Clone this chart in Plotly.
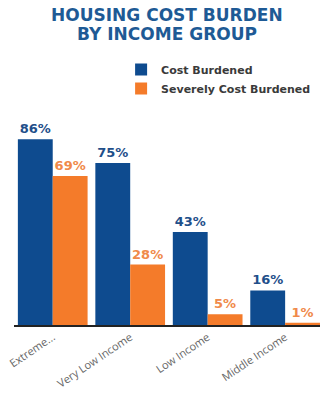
import plotly.graph_objects as go

categories = ["Extreme...", "Very Low Income", "Low Income", "Middle Income"]
cost_burdened = [86, 75, 43, 16]
severely_burdened = [69, 28, 5, 1]
title_lines = ["HOUSING COST BURDEN", "BY INCOME GROUP"]

BLUE = "#0e4b8f"
ORANGE = "#f47b2a"
PLOT_TOP, PLOT_H = 109, 216  # pixel top and height of the plotting area

fig = go.Figure()
fig.add_trace(go.Bar(
    x=categories, y=cost_burdened, name="Cost Burdened",
    marker=dict(color=BLUE, line=dict(width=0)),
    text=[f"<b>{v}%</b>" for v in cost_burdened], textposition="outside",
    textfont=dict(family="DejaVu Sans", size=13, color="#1f4f8a"),
    cliponaxis=False,
))
fig.add_trace(go.Bar(
    x=categories, y=severely_burdened, name="Severely Cost Burdened",
    marker=dict(color=ORANGE, line=dict(width=0)),
    text=[f"<b>{v}%</b>" for v in severely_burdened], textposition="outside",
    textfont=dict(family="DejaVu Sans", size=13, color="#f08a4a"),
    cliponaxis=False,
))

# two-line title, each line placed separately for tight line spacing
title_ann = []
for line, ypix in zip(title_lines, [15, 34]):
    title_ann.append(dict(
        text=f"<b>{line}</b>", xref="paper", yref="paper",
        x=0.5, y=1.0 + (PLOT_TOP - ypix) / PLOT_H,
        xanchor="center", yanchor="middle", showarrow=False,
        font=dict(family="DejaVu Sans", size=17, color="#1e5a95"),
    ))

fig.update_layout(
    width=320, height=398,
    margin=dict(l=14, r=0, t=PLOT_TOP, b=398 - PLOT_TOP - PLOT_H, autoexpand=False),
    paper_bgcolor="white", plot_bgcolor="white",
    barmode="group", bargap=0.1, bargroupgap=0,
    legend=dict(
        x=0.35, y=1.25, xanchor="left", yanchor="top",
        font=dict(family="DejaVu Sans", size=11, color="#3a3a3a", weight="bold"),
        bgcolor="rgba(0,0,0,0)", tracegroupgap=0, itemwidth=30,
    ),
    showlegend=True,
    annotations=title_ann,
)
fig.update_xaxes(
    range=[-0.5, 3.45], showgrid=False, showline=True, linecolor="#222",
    linewidth=1.5, ticks="", tickangle=-34,
    tickfont=dict(family="Open Sans", size=11, color="#666"),
)
fig.update_yaxes(range=[0, 100], visible=False, showgrid=False)

fig.write_html("out.html")
